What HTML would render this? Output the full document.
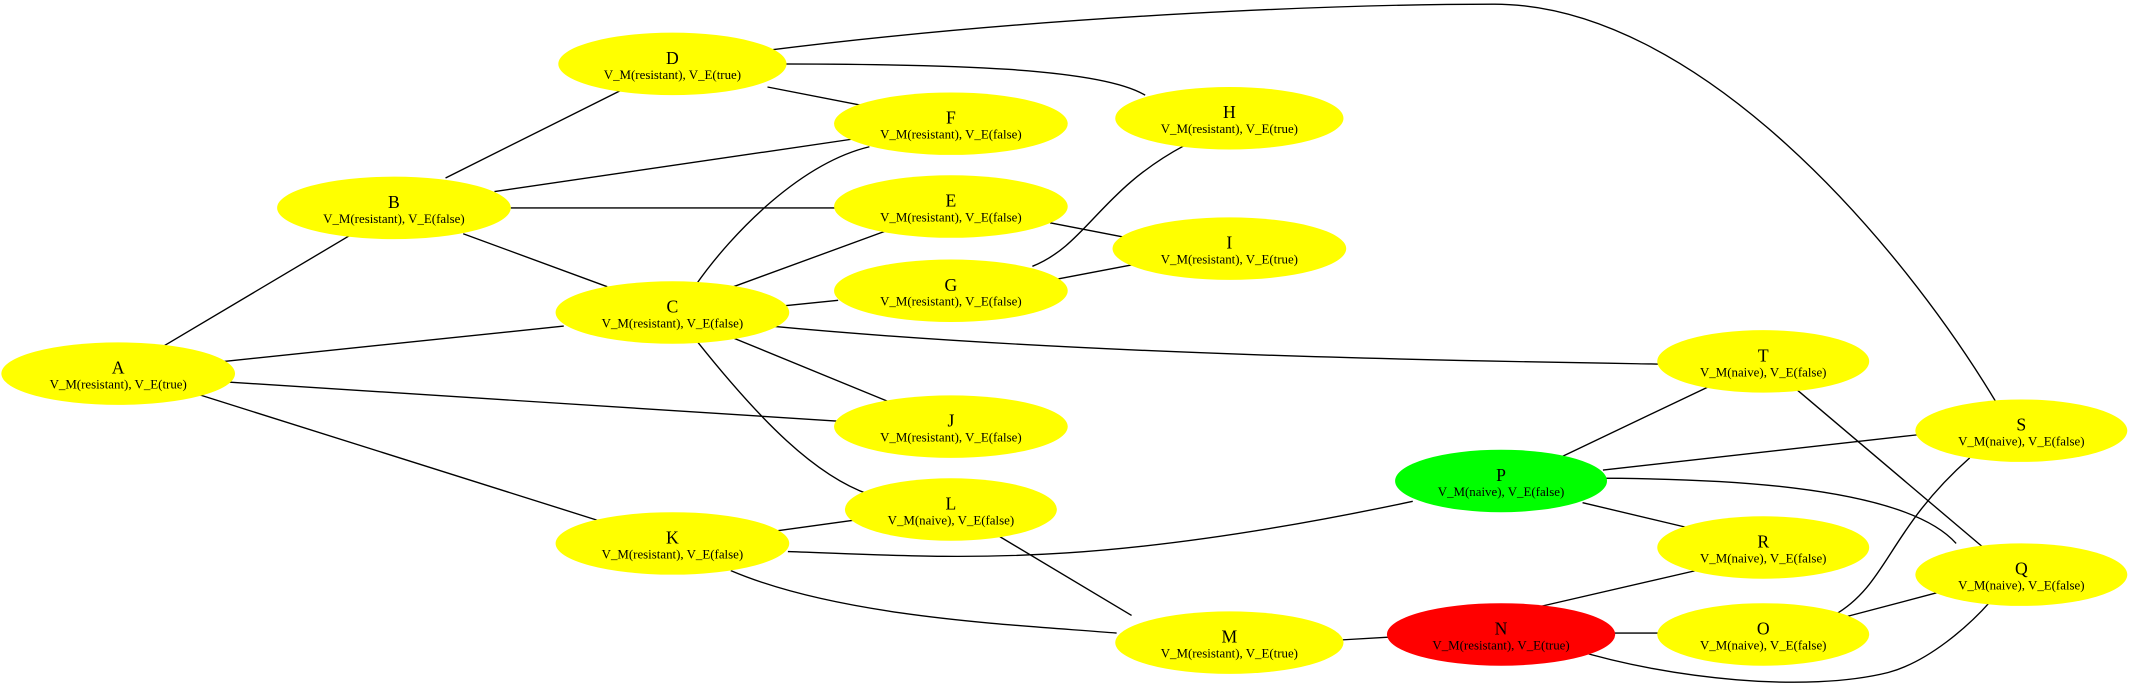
<!DOCTYPE html>
<html><head><style>html,body{margin:0;padding:0;background:#fff}svg{display:block}</style></head>
<body>
<svg width="2130" height="697" viewBox="0 0 1568 513" xmlns="http://www.w3.org/2000/svg" font-family="Liberation Serif, serif">
<g stroke="#000" stroke-width="1" fill="none">
<path d="M120,255 L258,173"/>
<path d="M165,266 L415,240"/>
<path d="M165,281 L617,310"/>
<path d="M145,290 L440,383"/>
<path d="M328,131 L458,66"/>
<path d="M364,141 L630,102"/>
<path d="M376,153 L615,153"/>
<path d="M341,172 L447,211"/>
<path d="M565,47 C700,47 810,50 843,70"/>
<path d="M565,64 L637,78"/>
<path d="M565,37 C780,10 1000,3 1100,3 C1250,3 1400,180 1470,297"/>
<path d="M512,210 C540,170 590,120 640,108"/>
<path d="M540,211 L652,170"/>
<path d="M578,225 L617,221"/>
<path d="M567,240 C800,262 1100,266 1222,268"/>
<path d="M538,248 L655,296"/>
<path d="M513,251 C560,310 600,350 640,364"/>
<path d="M773,164 L830,175"/>
<path d="M760,196 C800,180 810,140 872,107"/>
<path d="M775,206 L833,195"/>
<path d="M570,391 L628,383"/>
<path d="M580,406 C700,410 800,420 1040,369"/>
<path d="M538,420 C620,455 750,460 822,466"/>
<path d="M736,395 L833,453"/>
<path d="M988,471 L1022,469"/>
<path d="M1127,448 L1257,418"/>
<path d="M1188,466 L1222,466"/>
<path d="M1158,478 C1230,500 1330,510 1390,495 C1420,487 1450,460 1465,443"/>
<path d="M1150,336 L1257,285"/>
<path d="M1180,346 L1412,320"/>
<path d="M1170,352 C1250,352 1400,355 1440,400"/>
<path d="M1165,370 L1245,389"/>
<path d="M1323,287 L1460,403"/>
<path d="M1350,453 C1390,430 1390,390 1450,337"/>
<path d="M1355,455 L1427,436"/>
</g>
<g fill="#ffff00">
<ellipse cx="87" cy="275" rx="86" ry="23"/>
<ellipse cx="290" cy="153" rx="86" ry="23"/>
<ellipse cx="495" cy="230" rx="86" ry="23"/>
<ellipse cx="495" cy="47" rx="84" ry="23"/>
<ellipse cx="700" cy="152" rx="86" ry="23"/>
<ellipse cx="700" cy="91" rx="86" ry="23"/>
<ellipse cx="700" cy="214" rx="86" ry="23"/>
<ellipse cx="905" cy="87" rx="84" ry="23"/>
<ellipse cx="905" cy="183" rx="86" ry="23"/>
<ellipse cx="700" cy="314" rx="86" ry="23"/>
<ellipse cx="495" cy="400" rx="86" ry="23"/>
<ellipse cx="700" cy="375" rx="78" ry="23"/>
<ellipse cx="905" cy="473" rx="84" ry="23"/>
<ellipse cx="1298" cy="467" rx="78" ry="23"/>
<ellipse cx="1488" cy="423" rx="78" ry="23"/>
<ellipse cx="1298" cy="403" rx="78" ry="23"/>
<ellipse cx="1488" cy="317" rx="78" ry="23"/>
<ellipse cx="1298" cy="266" rx="78" ry="23"/>
</g>
<ellipse cx="1105" cy="467" rx="84" ry="23" fill="#ff0000"/>
<ellipse cx="1105" cy="354" rx="78" ry="23" fill="#00ff00"/>
<g text-anchor="middle" fill="#000">
<g font-size="13">
<text x="87" y="275">A</text><text x="290" y="153">B</text><text x="495" y="230">C</text><text x="495" y="47">D</text>
<text x="700" y="152">E</text><text x="700" y="91">F</text><text x="700" y="214">G</text><text x="905" y="87">H</text>
<text x="905" y="183">I</text><text x="700" y="314">J</text><text x="495" y="400">K</text><text x="700" y="375">L</text>
<text x="905" y="473">M</text><text x="1105" y="467">N</text><text x="1298" y="467">O</text><text x="1105" y="354">P</text>
<text x="1488" y="423">Q</text><text x="1298" y="403">R</text><text x="1488" y="317">S</text><text x="1298" y="266">T</text>
</g>
<g font-size="9.5">
<text x="87" y="286">V_M(resistant), V_E(true)</text>
<text x="290" y="164">V_M(resistant), V_E(false)</text>
<text x="495" y="241">V_M(resistant), V_E(false)</text>
<text x="495" y="58">V_M(resistant), V_E(true)</text>
<text x="700" y="163">V_M(resistant), V_E(false)</text>
<text x="700" y="102">V_M(resistant), V_E(false)</text>
<text x="700" y="225">V_M(resistant), V_E(false)</text>
<text x="905" y="98">V_M(resistant), V_E(true)</text>
<text x="905" y="194">V_M(resistant), V_E(true)</text>
<text x="700" y="325">V_M(resistant), V_E(false)</text>
<text x="495" y="411">V_M(resistant), V_E(false)</text>
<text x="700" y="386">V_M(naive), V_E(false)</text>
<text x="905" y="484">V_M(resistant), V_E(true)</text>
<text x="1105" y="478">V_M(resistant), V_E(true)</text>
<text x="1298" y="478">V_M(naive), V_E(false)</text>
<text x="1105" y="365">V_M(naive), V_E(false)</text>
<text x="1488" y="434">V_M(naive), V_E(false)</text>
<text x="1298" y="414">V_M(naive), V_E(false)</text>
<text x="1488" y="328">V_M(naive), V_E(false)</text>
<text x="1298" y="277">V_M(naive), V_E(false)</text>
</g>
</g>
</svg>
</body></html>
